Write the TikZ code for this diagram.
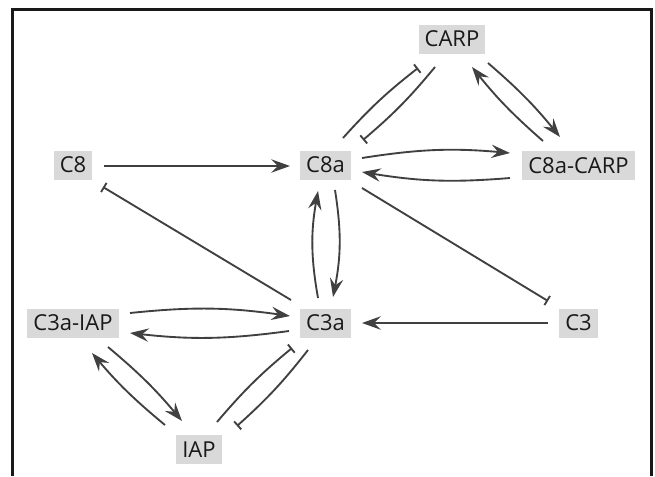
\documentclass[tikz,border=0pt]{standalone}
\usepackage{fontspec}
\setmainfont{Open Sans}
\usetikzlibrary{arrows.meta}

\tikzset{every picture/.style={line width=0.75pt}}
\tikzset{
  protein/.style={fill=gray!30, text=black!90, inner xsep=4.5pt, inner ysep=2pt,
    minimum height=21.75pt, font=\fontsize{16.5}{19}\selectfont},
  act/.style={draw=black!75, line width=1.4pt, -{Stealth[length=14pt,width=10pt,inset=5pt]}},
  inh/.style={draw=black!75, line width=1.4pt, -{Bar[width=8pt]}},
}

\begin{document}
\begin{tikzpicture}[x=0.75pt,y=0.75pt,yscale=-1,xscale=1]
\useasboundingbox (0,0) rectangle (655,476);

%Frame
\draw [line width=2.25pt, color=black!90] (12.5,476) -- (12.5,9.5) -- (651.5,9.5) -- (651.5,476) ;

% Text Node
\node [protein] (CARP) at (452,39) {CARP};
% Text Node
\node [protein] (C8aCARP) at (578.5,165.5) {C8a-CARP};
% Text Node
\node [protein] (C8) at (73,165) {C8};
% Text Node
\node [protein] (C8a) at (325.5,165) {C8a};
% Text Node
\node [protein] (C3aIAP) at (73,323) {C3a-IAP};
% Text Node
\node [protein] (C3a) at (325.5,323) {C3a};
% Text Node
\node [protein] (C3) at (578.5,323) {C3};
% Text Node
\node [protein] (IAP) at (199,449.5) {IAP};

%Activation
\draw [act] ([shift={(31,1)}]C8.center) -- ([shift={(-35.5,1)}]C8a.center) ;
\draw [act] ([shift={(-30.5,0)}]C3.center) -- ([shift={(36.5,0)}]C3a.center) ;
\draw [act] ([shift={(-7.5,-25)}]C3a.center) to [bend right=10] ([shift={(-7.5,26)}]C8a.center) ;
\draw [act] ([shift={(9.5,25)}]C8a.center) to [bend right=10] ([shift={(7.5,-26)}]C3a.center) ;
\draw [act] ([shift={(36.5,-7)}]C8a.center) to [bend right=7] ([shift={(-68.5,-12.5)}]C8aCARP.center) ;
\draw [act] ([shift={(-68.5,12.5)}]C8aCARP.center) to [bend right=7] ([shift={(36.5,7)}]C8a.center) ;
\draw [act] ([shift={(36,24)}]CARP.center) to [bend right=5] ([shift={(-18.5,-28.5)}]C8aCARP.center) ;
\draw [act] ([shift={(-35.5,-24.5)}]C8aCARP.center) to [bend right=5] ([shift={(20,28)}]CARP.center) ;
\draw [act] ([shift={(57,-10)}]C3aIAP.center) to [bend right=7] ([shift={(-35.5,-7)}]C3a.center) ;
\draw [act] ([shift={(-36.5,8)}]C3a.center) to [bend right=7] ([shift={(57,10)}]C3aIAP.center) ;
\draw [act] ([shift={(35,24)}]C3aIAP.center) to [bend right=5] ([shift={(-17,-28.5)}]IAP.center) ;
\draw [act] ([shift={(-34,-24.5)}]IAP.center) to [bend right=5] ([shift={(19,30)}]C3aIAP.center) ;

%Inhibition
\draw [inh] ([shift={(-34.5,-23)}]C3a.center) -- ([shift={(30,22)}]C8.center) ;
\draw [inh] ([shift={(36.5,23)}]C8a.center) -- ([shift={(-30.5,-22)}]C3.center) ;
\draw [inh] ([shift={(17.5,-27)}]C8a.center) to [bend right=5] ([shift={(-34,29)}]CARP.center) ;
\draw [inh] ([shift={(-17,28)}]CARP.center) to [bend right=5] ([shift={(37.5,-25)}]C8a.center) ;
\draw [inh] ([shift={(18,-27.5)}]IAP.center) to [bend right=5] ([shift={(-33.5,25)}]C3a.center) ;
\draw [inh] ([shift={(-17.5,27)}]C3a.center) to [bend right=5] ([shift={(38,-23.5)}]IAP.center) ;

\end{tikzpicture}
\end{document}
